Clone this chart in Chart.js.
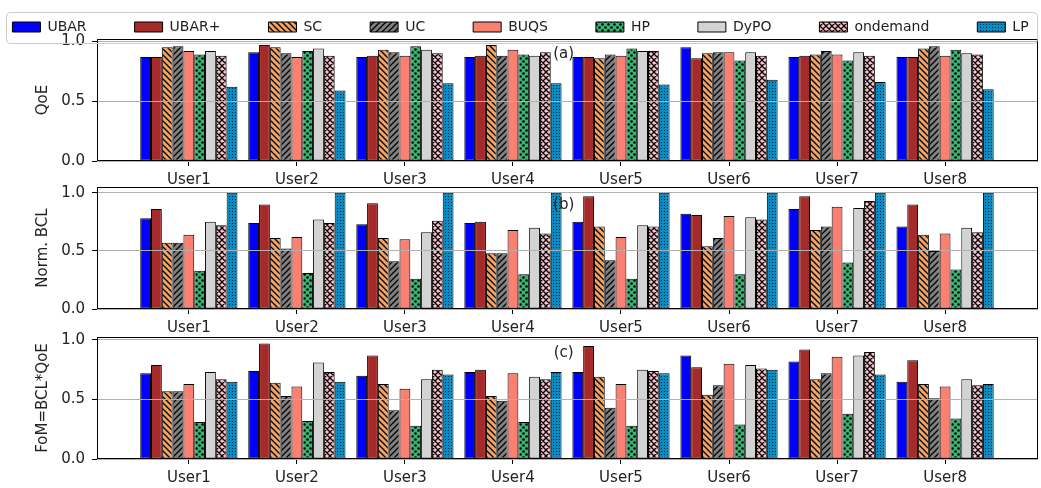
<!DOCTYPE html>
<html lang="en">
<head>
<meta charset="UTF-8">
<title>QoE, Norm. BCL and FoM per user</title>
<style>
  body { margin: 0; background: #fff; }
  #wrap { position: relative; width: 1041px; height: 488px; overflow: hidden; background: #fff; }
  canvas { position: absolute; }
</style>
</head>
<body>
<div id="wrap">
  <canvas id="pa" width="1041" height="157" style="left:0;top:30px"></canvas>
  <canvas id="pb" width="1041" height="155" style="left:0;top:180px"></canvas>
  <canvas id="pc" width="1041" height="158" style="left:0;top:330px"></canvas>
  <canvas id="leg" width="1141" height="130" style="left:-50px;top:-28px"></canvas>
</div>
<script src="https://cdn.jsdelivr.net/npm/chart.js"></script>
<script>
  const users = ['User1', 'User2', 'User3', 'User4', 'User5', 'User6', 'User7', 'User8'];
  const methods = ['UBAR', 'UBAR+', 'SC', 'UC', 'BUQS', 'HP', 'DyPO', 'ondemand', 'LP'];
  const faces = ['#0000ff', '#a52a2a', '#f4a460', '#808080', '#fa8072', '#3cb371', '#d3d3d3', '#ffc0cb', '#0a8bc4'];
  const hatches = ['', '', 'back', 'fwd', '', 'dots', '', 'cross', 'fine'];
  const yTicks = [0, 0.5, 1.0];

  // one row per method, one column per user
  const qoe = [
    [0.87, 0.91, 0.87, 0.87, 0.87, 0.95, 0.87, 0.87],
    [0.87, 0.97, 0.88, 0.88, 0.87, 0.86, 0.88, 0.87],
    [0.95, 0.95, 0.93, 0.97, 0.86, 0.90, 0.89, 0.94],
    [0.96, 0.90, 0.91, 0.88, 0.89, 0.91, 0.92, 0.96],
    [0.92, 0.87, 0.88, 0.93, 0.88, 0.91, 0.89, 0.88],
    [0.89, 0.92, 0.96, 0.89, 0.94, 0.84, 0.84, 0.93],
    [0.92, 0.94, 0.93, 0.88, 0.92, 0.91, 0.91, 0.90],
    [0.88, 0.88, 0.90, 0.91, 0.92, 0.88, 0.88, 0.89],
    [0.62, 0.59, 0.65, 0.65, 0.64, 0.68, 0.66, 0.60]
  ];
  const bcl = [
    [0.78, 0.74, 0.73, 0.74, 0.75, 0.82, 0.86, 0.71],
    [0.86, 0.90, 0.91, 0.75, 0.97, 0.81, 0.97, 0.90],
    [0.57, 0.61, 0.61, 0.48, 0.71, 0.54, 0.68, 0.64],
    [0.57, 0.52, 0.41, 0.48, 0.42, 0.61, 0.71, 0.50],
    [0.64, 0.62, 0.60, 0.68, 0.62, 0.80, 0.88, 0.65],
    [0.33, 0.31, 0.26, 0.30, 0.26, 0.30, 0.40, 0.34],
    [0.75, 0.77, 0.66, 0.70, 0.72, 0.79, 0.87, 0.70],
    [0.72, 0.74, 0.76, 0.65, 0.71, 0.77, 0.93, 0.66],
    [1.00, 1.00, 1.00, 1.00, 1.00, 1.00, 1.00, 1.00]
  ];
  const fom = [
    [0.72, 0.74, 0.70, 0.73, 0.73, 0.87, 0.82, 0.65],
    [0.79, 0.97, 0.87, 0.75, 0.95, 0.77, 0.92, 0.83],
    [0.57, 0.64, 0.63, 0.53, 0.69, 0.54, 0.67, 0.63],
    [0.57, 0.53, 0.41, 0.49, 0.43, 0.62, 0.72, 0.51],
    [0.63, 0.61, 0.59, 0.72, 0.63, 0.80, 0.86, 0.61],
    [0.31, 0.32, 0.28, 0.31, 0.28, 0.29, 0.38, 0.34],
    [0.73, 0.81, 0.67, 0.69, 0.75, 0.79, 0.87, 0.67],
    [0.67, 0.73, 0.75, 0.67, 0.74, 0.76, 0.90, 0.62],
    [0.65, 0.65, 0.71, 0.73, 0.72, 0.75, 0.71, 0.63]
  ];

  const ink = '#222';
  const font = { family: 'DejaVu Sans', size: 15 };
  const legendFont = { family: 'DejaVu Sans', size: 14 };

  // matplotlib-like hatch fills
  function hatchFill(bg, kind) {
    if (!kind) return bg;
    const s = kind === 'fine' ? 3 : 6;
    const c = document.createElement('canvas');
    c.width = s; c.height = s;
    const g = c.getContext('2d');
    g.fillStyle = bg;
    g.fillRect(0, 0, s, s);
    g.strokeStyle = '#000';
    g.fillStyle = '#000';
    g.lineWidth = 1.3;
    g.beginPath();
    if (kind === 'back' || kind === 'cross') {
      g.moveTo(0, 0); g.lineTo(s, s);
      g.moveTo(-1, s - 1); g.lineTo(1, s + 1);
      g.moveTo(s - 1, -1); g.lineTo(s + 1, 1);
    }
    if (kind === 'fwd' || kind === 'cross') {
      g.moveTo(0, s); g.lineTo(s, 0);
      g.moveTo(-1, 1); g.lineTo(1, -1);
      g.moveTo(s - 1, s + 1); g.lineTo(s + 1, s - 1);
    }
    g.stroke();
    if (kind === 'dots') {
      g.beginPath(); g.arc(1.5, 1.5, 1.3, 0, Math.PI * 2); g.fill();
      g.beginPath(); g.arc(4.5, 4.5, 1.3, 0, Math.PI * 2); g.fill();
    }
    if (kind === 'fine') {
      g.globalAlpha = 0.7;
      g.fillRect(1, 1, 1, 1);
    }
    return g.createPattern(c, 'repeat');
  }

  const fills = faces.map((f, k) => hatchFill(f, hatches[k]));

  function datasets(rows) {
    return methods.map((m, k) => ({
      label: m,
      data: rows ? rows[k].map((v, i) => ({ x: i, y: v })) : [],
      backgroundColor: fills[k],
      borderColor: '#000',
      borderWidth: 1,
      borderSkipped: false,
      categoryPercentage: 0.9,
      barPercentage: 1.0
    }));
  }

  // axes frame on all four sides + the (a)/(b)/(c) tag
  const frame = {
    id: 'frame',
    afterDraw(chart, args, opts) {
      const a = chart.chartArea, ctx = chart.ctx;
      ctx.save();
      ctx.strokeStyle = '#000';
      ctx.lineWidth = 1;
      ctx.strokeRect(Math.round(a.left) + 0.5, Math.round(a.top) + 0.5,
        Math.round(a.right - a.left) - 1, Math.round(a.bottom - a.top) - 1);
      if (opts.tag) {
        ctx.fillStyle = ink;
        ctx.font = '15px "DejaVu Sans"';
        ctx.textAlign = 'center';
        ctx.textBaseline = 'middle';
        ctx.fillText(opts.tag, chart.scales.x.getPixelForValue(opts.x), chart.scales.y.getPixelForValue(opts.y));
      }
      ctx.restore();
    }
  };

  const legendFrame = {
    id: 'legendFrame',
    afterDraw(chart) {
      const hb = chart.legend.legendHitBoxes;
      if (!hb || !hb.length) return;
      const last = hb[hb.length - 1];
      const left = Math.round(hb[0].left - 6) + 0.5;
      const right = Math.round(last.left + last.width + 8) + 0.5;
      const mid = hb[0].top + hb[0].height / 2;
      const ctx = chart.ctx;
      ctx.save();
      ctx.strokeStyle = '#cccccc';
      ctx.lineWidth = 1;
      ctx.beginPath();
      ctx.roundRect(left, Math.round(mid - 15) + 0.5, right - left, 31, 4);
      ctx.stroke();
      ctx.restore();
    }
  };

  function panel(id, rows, yMax, yTitle, tag, padTop, xHeight) {
    return new Chart(document.getElementById(id), {
      type: 'bar',
      data: { datasets: datasets(rows) },
      options: {
        responsive: false,
        animation: false,
        events: [],
        layout: { padding: { top: padTop, right: 3, left: 0, bottom: 0 } },
        plugins: {
          legend: { display: false },
          tooltip: { enabled: false },
          frame: { tag: tag, x: 3.47, y: 0.89 }
        },
        scales: {
          x: {
            type: 'linear',
            min: -0.85,
            max: 7.86,
            offset: false,
            grid: { offset: false, drawOnChartArea: false, tickLength: 5, tickColor: '#000' },
            border: { display: false },
            afterBuildTicks: s => { s.ticks = users.map((u, i) => ({ value: i })); },
            afterFit: s => { s.height = xHeight; s.paddingLeft = 0; s.paddingRight = 0; },
            ticks: { font: font, color: ink, padding: 5, autoSkip: false, maxRotation: 0,
                     callback: v => users[v] }
          },
          y: {
            min: 0,
            max: yMax,
            grid: { color: '#b0b0b0', lineWidth: 1, z: 1, tickLength: 5, tickColor: '#000' },
            border: { display: false },
            afterBuildTicks: s => { s.ticks = yTicks.map(v => ({ value: v })); },
            afterFit: s => { s.width = 97; s.paddingTop = 0; s.paddingBottom = 0; },
            ticks: { font: font, color: ink, padding: 7, callback: v => v.toFixed(1) },
            title: { display: true, text: yTitle, font: font, color: ink, padding: { top: 34, bottom: 0 } }
          }
        }
      },
      plugins: [frame]
    });
  }

  panel('pa', qoe, 1.02, 'QoE', '(a)', 9, 26);
  panel('pb', bcl, 1.05, 'Norm. BCL', '(b)', 7, 26);
  panel('pc', fom, 1.025, 'FoM=BCL*QoE', '(c)', 7, 29);

  // legend only (wider canvas so the nine entries fit on one row)
  new Chart(document.getElementById('leg'), {
    type: 'bar',
    data: { datasets: datasets(null) },
    options: {
      responsive: false,
      animation: false,
      events: [],
      layout: { padding: 0 },
      scales: { x: { display: false }, y: { display: false } },
      plugins: {
        tooltip: { enabled: false },
        legend: {
          display: true,
          position: 'top',
          labels: { boxWidth: 28, boxHeight: 10, padding: 48, font: legendFont, color: ink }
        }
      }
    },
    plugins: [legendFrame]
  });
</script>
</body>
</html>
